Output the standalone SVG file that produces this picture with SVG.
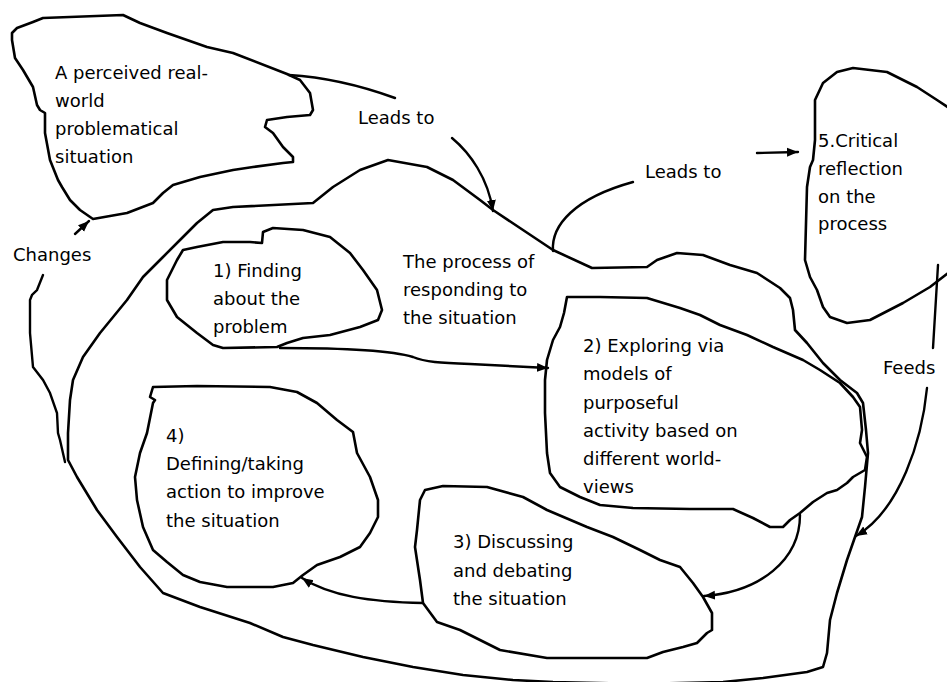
<svg xmlns="http://www.w3.org/2000/svg" width="947" height="682" viewBox="0 0 947 682">
<style>
.s{fill:none;stroke:#000;stroke-width:2.6;stroke-linejoin:round;stroke-linecap:round}
.c{fill:none;stroke:#000;stroke-width:2.4;stroke-linecap:round}
.t{font-family:"DejaVu Sans","Liberation Sans",sans-serif;font-size:18px;fill:#000}
</style>
<defs>
<marker id="ah" markerUnits="userSpaceOnUse" markerWidth="12" markerHeight="10" viewBox="0 0 12 10" refX="11" refY="5" orient="auto">
<path d="M0,0.5 L11,5 L0,9.5 Z" fill="#000"/>
</marker>
</defs>
<rect width="947" height="682" fill="#fff"/>

<g id="node-situation">
<path class="s" d="M12,33 L17,28 L33,22 L43,18 L123,15 L140,23 L167,33 L207,47 L233,53 L287,74 L300,80 L310,93 L313,110 L310,115 L287,117 L267,120 L265,127 L273,133 L283,147 L293,157 L293,162 L283,163 L253,167 L233,170 L200,177 L173,185 L163,193 L153,203 L127,213 L93,219 L80,210 L70,200 L62,187 L58,180 L50,160 L45,133 L45,113 L40,110 L37,105 L33,87 L23,70 L15,58 L12,40 Z"/>
<text class="t" x="55" y="79">A perceived real-</text>
<text class="t" x="55" y="107">world</text>
<text class="t" x="55" y="135">problematical</text>
<text class="t" x="55" y="163">situation</text>
</g>

<g id="node-process">
<path class="s" d="M163,257 L180,240 L197,223 L213,210 L233,207 L313,203 L333,187 L360,170 L388,160 L427,167 L453,180 L480,200 L493,210 L520,228 L553,250 L592,268 L647,267 L657,260 L677,253 L703,255 L730,265 L757,273 L780,288 L790,298 L793,310 L795,330 L807,343 L823,363 L840,380 L857,393 L863,403 L866,430 L868,453 L865,487 L862,517 L855,537 L847,560 L837,593 L830,620 L827,653 L823,667 L807,672 L763,678 L723,682 L640,684 L553,682 L513,680 L463,675 L413,667 L363,657 L313,645 L283,637 L250,623 L200,607 L163,593 L140,567 L117,537 L97,510 L77,477 L68,460 L68,433 L70,400 L73,380 L83,357 L100,333 L127,300 L143,277 Z"/>
<text class="t" x="403" y="268">The process of</text>
<text class="t" x="403" y="296">responding to</text>
<text class="t" x="403" y="324">the situation</text>
</g>

<g id="node-finding">
<path class="s" d="M262,243 L263,232 L273,228 L303,230 L330,237 L350,253 L363,270 L377,290 L382,310 L378,320 L360,327 L330,335 L303,338 L287,343 L277,347 L223,348 L213,345 L197,333 L177,317 L167,300 L167,280 L177,260 L183,250 L197,247 L223,242 L250,242 Z"/>
<text class="t" x="213" y="277">1) Finding</text>
<text class="t" x="213" y="305">about the</text>
<text class="t" x="213" y="333">problem</text>
</g>

<g id="node-exploring">
<path class="s" d="M567,297 L600,297 L647,298 L680,308 L700,315 L720,325 L747,335 L773,347 L803,360 L820,370 L840,383 L853,397 L860,407 L862,430 L860,443 L867,457 L865,470 L853,477 L847,483 L837,490 L827,493 L813,502 L800,513 L790,520 L783,527 L770,527 L753,518 L733,509 L690,509 L633,508 L600,505 L580,497 L560,487 L550,473 L547,453 L545,413 L545,380 L547,360 L553,340 L560,327 L564,313 Z"/>
<text class="t" x="583" y="352">2) Exploring via</text>
<text class="t" x="583" y="380">models of</text>
<text class="t" x="583" y="409">purposeful</text>
<text class="t" x="583" y="437">activity based on</text>
<text class="t" x="583" y="465">different world-</text>
<text class="t" x="583" y="493">views</text>
</g>

<g id="node-discussing">
<path class="s" d="M425,490 L443,486 L487,487 L523,497 L547,510 L587,527 L613,537 L640,550 L660,560 L680,567 L693,583 L703,597 L712,613 L712,630 L707,633 L697,643 L683,647 L663,652 L647,658 L547,658 L500,650 L460,630 L437,622 L423,603 L420,580 L415,547 L417,530 L420,500 Z"/>
<text class="t" x="453" y="548">3) Discussing</text>
<text class="t" x="453" y="577">and debating</text>
<text class="t" x="453" y="605">the situation</text>
</g>

<g id="node-defining">
<path class="s" d="M153,387 L197,386 L270,387 L297,392 L317,403 L337,420 L353,432 L357,453 L370,477 L378,500 L378,517 L370,533 L360,547 L340,557 L317,565 L303,575 L293,583 L273,587 L227,587 L200,582 L183,575 L167,562 L153,550 L143,527 L137,500 L135,477 L140,453 L147,433 L153,403 L155,400 L150,397 Z"/>
<text class="t" x="166" y="442">4)</text>
<text class="t" x="166" y="470">Defining/taking</text>
<text class="t" x="166" y="498">action to improve</text>
<text class="t" x="166" y="527">the situation</text>
</g>

<g id="node-reflection">
<path class="s" d="M952,110 L937,100 L917,87 L887,72 L853,68 L837,72 L823,83 L815,100 L815,140 L813,160 L810,167 L807,187 L805,260 L810,277 L817,290 L823,307 L830,317 L847,323 L870,320 L903,303 L930,287 L952,270"/>
<text class="t" x="818" y="147">5.Critical</text>
<text class="t" x="818" y="175">reflection</text>
<text class="t" x="818" y="203">on the</text>
<text class="t" x="818" y="230">process</text>
</g>

<g id="connectors">
<path class="c" d="M289,75 Q340,78 395,98"/>
<path class="c" d="M452,138 C470,153 488,178 493,211" marker-end="url(#ah)"/>
<text class="t" x="358" y="124">Leads to</text>
<path class="c" d="M553,251 C551,225 575,198 633,182"/>
<path class="c" d="M757,153 L798,152" marker-end="url(#ah)"/>
<text class="t" x="645" y="178">Leads to</text>
<path class="c" d="M65,462 L60,440 L58,433 L57,413 L50,393 L43,380 L33,367 L30,333 L30,300 L32,295 L37,290 L43,275"/>
<path class="c" d="M75,234 L89,221" marker-end="url(#ah)"/>
<text class="t" x="13" y="261">Changes</text>
<path class="c" d="M280,348 C340,348 390,350 413,357 C425,362 440,363 470,364 L548,368" marker-end="url(#ah)"/>
<path class="c" d="M800,515 C800,560 760,592 704,596" marker-end="url(#ah)"/>
<path class="c" d="M423,603 C370,602 330,596 302,578" marker-end="url(#ah)"/>
<path class="c" d="M938,265 L933,348"/>
<path class="c" d="M927,388 C922,440 900,510 856,536" marker-end="url(#ah)"/>
<text class="t" x="883" y="374">Feeds</text>
</g>
</svg>
